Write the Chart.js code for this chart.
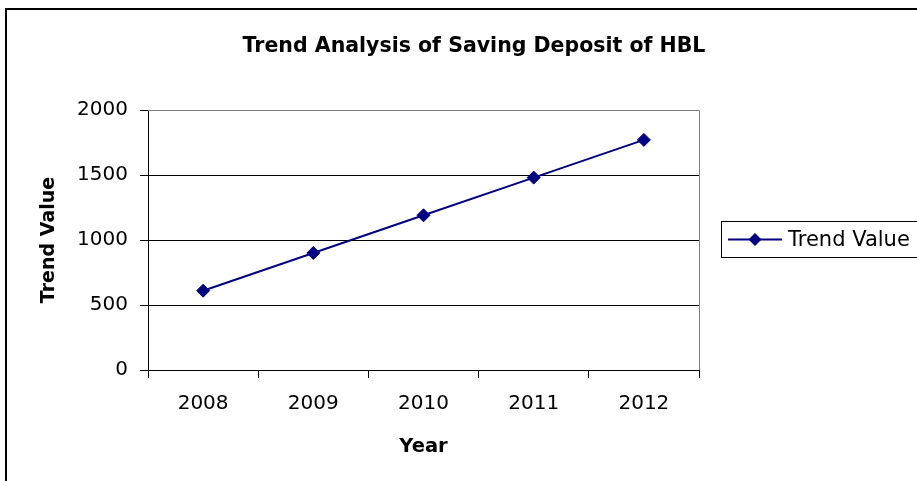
<!DOCTYPE html>
<html>
<head>
<meta charset="utf-8">
<title>Trend Analysis of Saving Deposit of HBL</title>
<script src="https://cdn.jsdelivr.net/npm/chart.js@4/dist/chart.umd.min.js"></script>
<style>
  html, body { margin: 0; padding: 0; background: #ffffff; }
  canvas { display: block; }
</style>
</head>
<body>
<canvas id="chart" width="917" height="481"></canvas>
<script>
// Years on the category axis
const years = ['2008', '2009', '2010', '2011', '2012'];
// Trend value of saving deposits for each year
const trendValues = [610, 900, 1190, 1480, 1770];
// Value axis ticks
const yTicks = [0, 500, 1000, 1500, 2000];

const chartTitle = 'Trend Analysis of Saving Deposit of HBL';
const seriesName = 'Trend Value';
const xTitle = 'Year';
const yTitle = 'Trend Value';

const NAVY = '#000080';
const FONT = '"DejaVu Sans", "Liberation Sans", Arial, sans-serif';

// Frame, title, plot border and boxed legend
const decorations = {
  id: 'decorations',
  beforeDraw(chart) {
    const ctx = chart.ctx;
    ctx.save();
    ctx.fillStyle = '#ffffff';
    ctx.fillRect(0, 0, chart.width, chart.height);
    ctx.strokeStyle = '#000000';
    ctx.lineWidth = 2;
    ctx.strokeRect(6, 9, chart.width + 20, chart.height + 20);
    ctx.fillStyle = '#000000';
    ctx.font = 'bold 20.5px ' + FONT;
    ctx.textAlign = 'center';
    ctx.textBaseline = 'alphabetic';
    ctx.fillText(chartTitle, 474, 52);
    ctx.restore();
  },
  beforeDatasetsDraw(chart) {
    const ctx = chart.ctx;
    const a = chart.chartArea;
    ctx.save();
    ctx.strokeStyle = '#808080';
    ctx.lineWidth = 1;
    ctx.beginPath();
    ctx.moveTo(a.left, a.top + 0.5);
    ctx.lineTo(a.right + 0.5, a.top + 0.5);
    ctx.lineTo(a.right + 0.5, a.bottom);
    ctx.stroke();
    ctx.restore();
  },
  afterDatasetsDraw(chart) {
    const ctx = chart.ctx;
    ctx.save();
    // legend box
    const lx = 721.5, ly = 221.5, lh = 36;
    ctx.strokeStyle = '#000000';
    ctx.lineWidth = 1;
    ctx.strokeRect(lx, ly, chart.width, lh);
    const cy = ly + lh / 2;
    ctx.strokeStyle = NAVY;
    ctx.lineWidth = 2;
    ctx.beginPath();
    ctx.moveTo(728, cy);
    ctx.lineTo(782, cy);
    ctx.stroke();
    ctx.fillStyle = NAVY;
    ctx.beginPath();
    ctx.moveTo(755, cy - 6.5);
    ctx.lineTo(761.5, cy);
    ctx.lineTo(755, cy + 6.5);
    ctx.lineTo(748.5, cy);
    ctx.closePath();
    ctx.fill();
    ctx.fillStyle = '#000000';
    ctx.font = '21px ' + FONT;
    ctx.textAlign = 'left';
    ctx.textBaseline = 'middle';
    ctx.fillText(seriesName, 788, cy + 1);
    ctx.restore();
  }
};

new Chart(document.getElementById('chart'), {
  type: 'line',
  data: {
    labels: years,
    datasets: [{
      label: seriesName,
      data: trendValues,
      borderColor: NAVY,
      backgroundColor: NAVY,
      borderWidth: 2,
      pointStyle: 'rectRot',
      pointRadius: 6.5,
      pointHoverRadius: 6.5,
      pointBackgroundColor: NAVY,
      pointBorderColor: NAVY,
      pointBorderWidth: 1,
      tension: 0,
      fill: false
    }]
  },
  options: {
    responsive: false,
    animation: false,
    devicePixelRatio: 1,
    layout: { padding: { top: 110, right: 218, bottom: 0, left: 0 } },
    plugins: {
      legend: { display: false },
      title: { display: false },
      tooltip: { enabled: false }
    },
    scales: {
      x: {
        type: 'category',
        offset: true,
        afterFit(scale) { scale.height = 111; },
        grid: {
          drawOnChartArea: false,
          drawTicks: true,
          offset: true,
          tickLength: 8,
          color: '#000000',
          tickColor: '#000000',
          lineWidth: 1
        },
        border: { display: true, color: '#000000', width: 1 },
        ticks: {
          color: '#000000',
          font: { family: FONT, size: 20 },
          padding: 14,
          maxRotation: 0,
          autoSkip: false
        },
        title: {
          display: true,
          text: xTitle,
          color: '#000000',
          font: { family: FONT, size: 19.5, weight: 'bold' },
          padding: { top: 0, bottom: 22 }
        }
      },
      y: {
        min: yTicks[0],
        max: yTicks[yTicks.length - 1],
        afterFit(scale) { scale.width = 148; },
        afterBuildTicks(scale) { scale.ticks = yTicks.map(v => ({ value: v })); },
        grid: {
          drawTicks: true,
          tickLength: 8,
          color: ctx => (ctx.tick && ctx.tick.value === yTicks[yTicks.length - 1]) ? '#808080' : '#000000',
          tickColor: '#000000',
          lineWidth: 1
        },
        border: { display: true, color: '#000000', width: 1 },
        ticks: {
          color: '#000000',
          font: { family: FONT, size: 20 },
          padding: 12,
          callback: value => String(value)
        },
        title: {
          display: true,
          text: yTitle,
          color: '#000000',
          font: { family: FONT, size: 19, weight: 'bold' },
          padding: { top: 38, bottom: 0 }
        }
      }
    }
  },
  plugins: [decorations]
});
</script>
</body>
</html>
